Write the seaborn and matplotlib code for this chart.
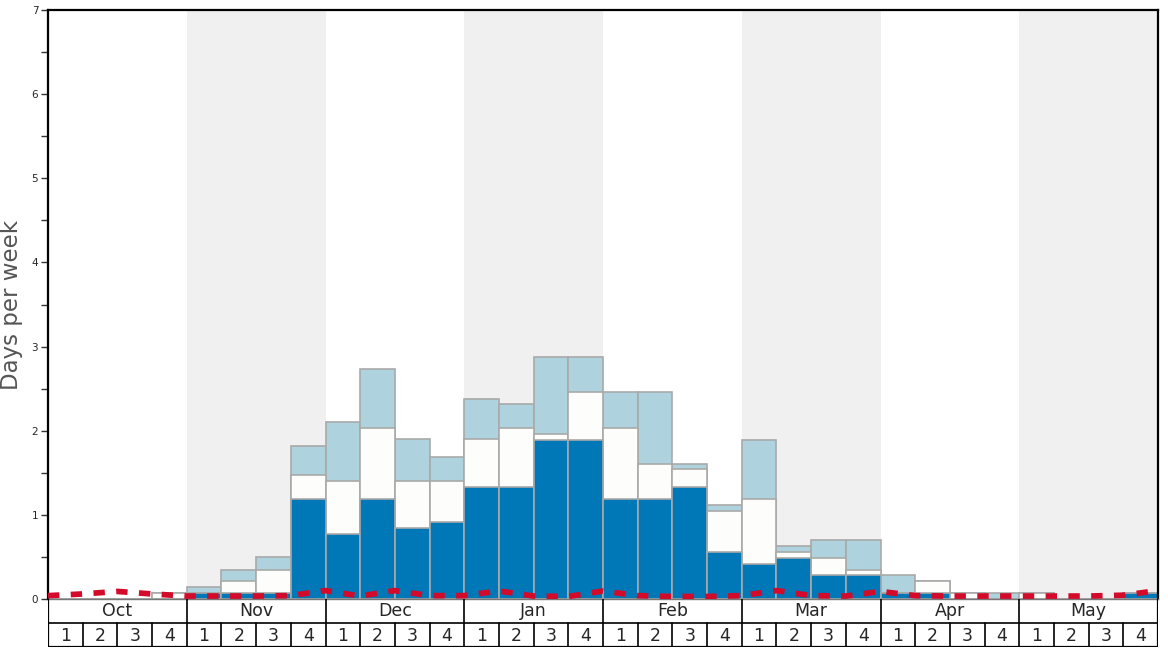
import numpy as np
import matplotlib
matplotlib.use("Agg")
import matplotlib.pyplot as plt
import seaborn as sns

months = ["Oct", "Nov", "Dec", "Jan", "Feb", "Mar", "Apr", "May"]
week_nums = ["1", "2", "3", "4"]

# cumulative heights of the three stacked bands, one value per week
deep = [0, 0, 0, 0,
        0.07, 0.07, 0.07, 1.19,
        0.77, 1.19, 0.84, 0.91,
        1.33, 1.33, 1.89, 1.89,
        1.19, 1.19, 1.33, 0.56,
        0.42, 0.49, 0.28, 0.28,
        0.07, 0.07, 0, 0,
        0, 0, 0, 0.07]
mid = [0, 0, 0, 0.07,
       0.07, 0.21, 0.35, 1.47,
       1.40, 2.03, 1.40, 1.40,
       1.90, 2.03, 1.96, 2.46,
       2.03, 1.61, 1.54, 1.05,
       1.19, 0.56, 0.49, 0.35,
       0.07, 0.21, 0.07, 0,
       0.07, 0, 0, 0.07]
total = [0, 0, 0, 0.07,
         0.14, 0.35, 0.50, 1.82,
         2.10, 2.73, 1.90, 1.69,
         2.38, 2.32, 2.88, 2.88,
         2.46, 2.46, 1.61, 1.12,
         1.89, 0.63, 0.70, 0.70,
         0.28, 0.21, 0.07, 0.07,
         0.07, 0, 0, 0.07]

# average line, read at week boundaries
avg_line = [0.04, 0.06, 0.09, 0.06, 0.035, 0.035, 0.035, 0.04, 0.10,
            0.035, 0.10, 0.04, 0.04, 0.095, 0.035, 0.03, 0.095,
            0.04, 0.03, 0.03, 0.04, 0.10, 0.04, 0.035, 0.09,
            0.04, 0.035, 0.035, 0.035, 0.035, 0.035, 0.045, 0.10]

weeks = list(range(len(total)))
edges = np.arange(len(avg_line)) - 0.5

sns.set_style("white")
plt.rcParams['font.family'] = ['DejaVu Sans']

fig = plt.figure(figsize=(11.68, 6.48), dpi=100)
ax = fig.add_axes([48 / 1168, 49 / 648, 1110 / 1168, 589 / 648])
tab = fig.add_axes([48 / 1168, 1 / 648, 1110 / 1168, 48 / 648])

for m in range(1, len(months), 2):
    ax.axvspan(4 * m - 0.5, 4 * m + 3.5, color="#f0f0f0", zorder=0, lw=0)

bar_kw = dict(width=1, saturation=1, edgecolor="#a9a9a9", linewidth=1.2, ax=ax, zorder=2)
sns.barplot(x=weeks, y=total, color="#aed3df", **bar_kw)
sns.barplot(x=weeks, y=mid, color="#fdfdfb", **bar_kw)
sns.barplot(x=weeks, y=deep, color="#0077b6", **bar_kw)

sns.lineplot(x=edges, y=avg_line, color="#d40a2b", linewidth=4.1,
             linestyle=(0, (2.0, 2.0)), ax=ax, zorder=4)

ax.set_xlim(-0.5, len(weeks) - 0.5)
ax.set_ylim(0, 7)
ax.set_xticks([])
ax.set_xlabel("")
ax.set_yticks(range(8))
ax.set_yticks(np.arange(0.5, 7, 1), minor=True)
ax.tick_params(axis="y", which="both", length=5, width=1, color="#333333",
               labelsize=7.5, pad=2, left=True)
ax.set_ylabel("Days per week", fontsize=16.5, color="#555555")
ax.yaxis.set_label_coords(-0.0225, 0.5)
for s in ["top", "left", "right"]:
    ax.spines[s].set_color("black")
    ax.spines[s].set_linewidth(1.6)
ax.spines["bottom"].set_color("#777777")
ax.spines["bottom"].set_linewidth(1)

# month / week table under the plot
tab.set_xlim(-0.5, len(weeks) - 0.5)
tab.set_ylim(0, 2)
tab.axis("off")
tab.axhline(1, color="black", lw=1.2)
tab.axhline(0.01, color="black", lw=1.6)
tab.axvline(-0.5, color="black", lw=1.6)
tab.axvline(len(weeks) - 0.5, color="black", lw=1.6)
for i, name in enumerate(months):
    tab.text(4 * i + 1.5, 1.5, name, ha="center", va="center", fontsize=12.5)
    if i > 0:
        tab.plot([4 * i - 0.5] * 2, [0, 2], color="black", lw=1.2)
    for j, w in enumerate(week_nums):
        k = 4 * i + j
        tab.text(k, 0.45, w, ha="center", va="center", fontsize=12.5)
        if j > 0:
            tab.plot([k - 0.5] * 2, [0, 1], color="black", lw=1.2)

fig.savefig("out.png", dpi=100)
